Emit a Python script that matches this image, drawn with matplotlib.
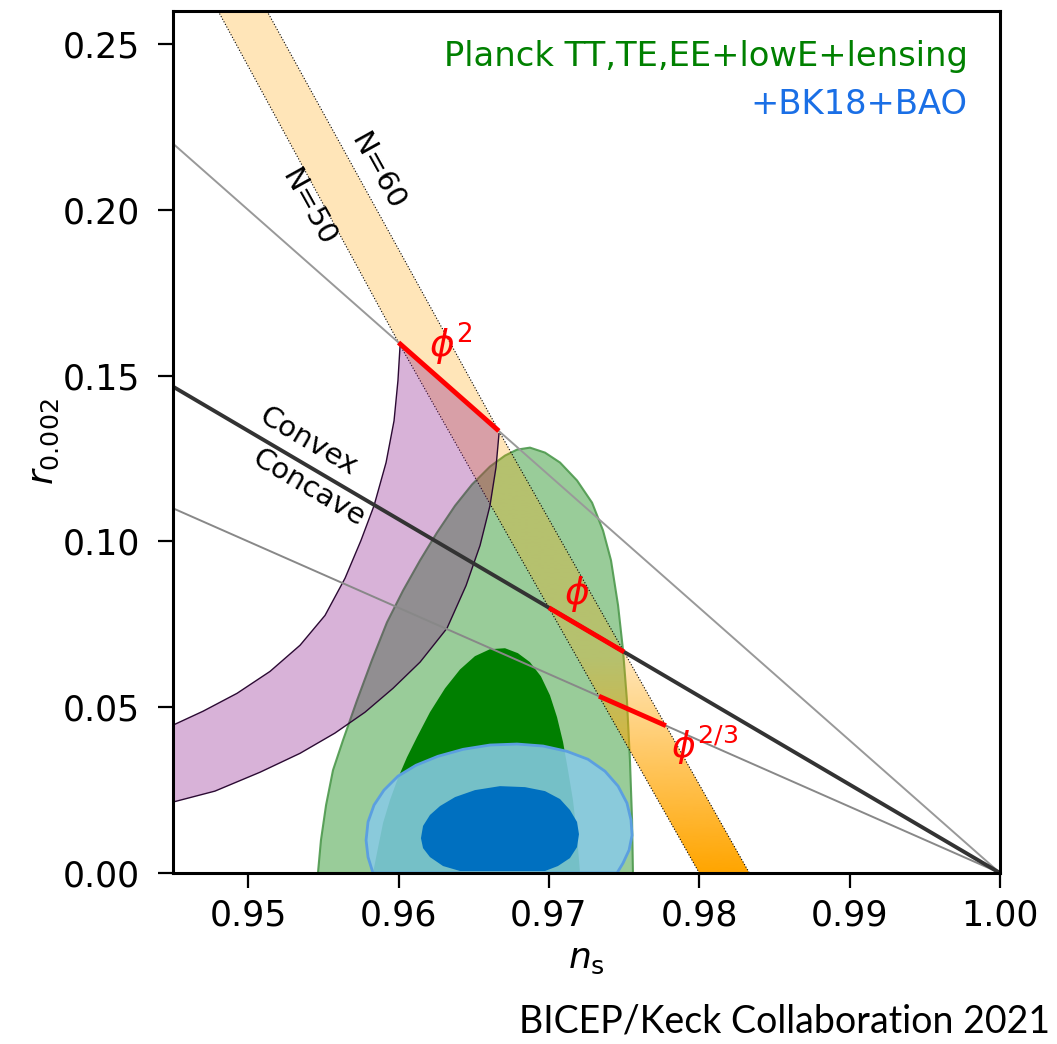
import numpy as np
import matplotlib
matplotlib.use('Agg')
import matplotlib.pyplot as plt
from matplotlib.patches import Polygon
from matplotlib.colors import to_rgb

# --- data (n_s, r) ---
# straight model lines, endpoints
quad_ns, quad_r = [0.945, 1.0], [0.22, 0.0]          # phi^2 line
lin_ns, lin_r = [0.945, 1.0], [0.1467, 0.0]          # phi line (convex/concave)
twothird_ns, twothird_r = [0.945, 1.0], [0.11, 0.0]  # phi^(2/3) line

# N=50 / N=60 edges of the orange band
n50_ns = [0.9480, 0.9600, 0.9700, 0.97333, 0.9800]
n50_r = [0.26, 0.1600, 0.0800, 0.05333, 0.0]
n60_ns = [0.95125, 0.96667, 0.9750, 0.97778, 0.98333]
n60_r = [0.26, 0.13333, 0.06667, 0.04444, 0.0]

# red segments (N=50 -> N=60)
seg_quad = ([0.9600, 0.96667], [0.1600, 0.13333])
seg_lin = ([0.9700, 0.9750], [0.0800, 0.06667])
seg_23 = ([0.97333, 0.97778], [0.05333, 0.04444])

# purple band (natural inflation), N=50 and N=60 edges
nat50_ns = [0.94500, 0.94700, 0.94926, 0.95145, 0.95345, 0.95511, 0.95644,
            0.95750, 0.95837, 0.95917, 0.95970, 0.95996, 0.96010]
nat50_r = [0.0446, 0.0488, 0.0542, 0.0608, 0.0687, 0.0777, 0.0889,
           0.1003, 0.1108, 0.1238, 0.1364, 0.1485, 0.1590]
nat60_ns = [0.94500, 0.94779, 0.95079, 0.95345, 0.95577, 0.95777, 0.95963,
            0.96143, 0.96322, 0.96449, 0.96542, 0.96608, 0.96648, 0.96668]
nat60_r = [0.0214, 0.0247, 0.0304, 0.0361, 0.0422, 0.0485, 0.0557,
           0.0636, 0.0738, 0.0867, 0.0988, 0.1108, 0.1223, 0.1325]

# Planck TT,TE,EE+lowE+lensing, 95% and 68%
pl95_ns = [0.95464, 0.95484, 0.95518, 0.95564, 0.95631, 0.95724, 0.95823,
           0.95923, 0.96030, 0.96143, 0.96256, 0.96376, 0.96489, 0.96608,
           0.96708, 0.96788, 0.96874, 0.96974, 0.97074, 0.97187, 0.97287,
           0.97360, 0.97413, 0.97460, 0.97493, 0.97519, 0.97539, 0.97553, 0.97559]
pl95_r = [0.0, 0.0099, 0.0205, 0.0310, 0.0401, 0.0521, 0.0642,
          0.0756, 0.0852, 0.0943, 0.1027, 0.1108, 0.1172, 0.1226,
          0.1259, 0.1277, 0.1283, 0.1268, 0.1238, 0.1184, 0.1117,
          0.1033, 0.0943, 0.0807, 0.0672, 0.0521, 0.0340, 0.0160, 0.0]
pl68_ns = [0.95830, 0.95863, 0.95897, 0.95943, 0.95996, 0.96056, 0.96123,
           0.96209, 0.96309, 0.96409, 0.96508, 0.96608, 0.96708, 0.96794,
           0.96874, 0.96947, 0.97007, 0.97054, 0.97094, 0.97127, 0.97160,
           0.97187, 0.97207]
pl68_r = [0.0, 0.0075, 0.0151, 0.0220, 0.0286, 0.0349, 0.0410,
          0.0485, 0.0557, 0.0614, 0.0654, 0.0675, 0.0678, 0.0663,
          0.0636, 0.0593, 0.0536, 0.0470, 0.0395, 0.0310, 0.0220,
          0.0114, 0.0]

# +BK18+BAO, 95% and 68%
bk95_ns = [0.95830, 0.95797, 0.95784, 0.95797, 0.95837, 0.95903, 0.95996,
           0.96116, 0.96262, 0.96429, 0.96608, 0.96788, 0.96961, 0.97120,
           0.97260, 0.97373, 0.97460, 0.97519, 0.97546, 0.97553, 0.97533,
           0.97493, 0.97453]
bk95_r = [0.0, 0.0048, 0.0099, 0.0154, 0.0205, 0.0250, 0.0292,
          0.0325, 0.0352, 0.0373, 0.0386, 0.0389, 0.0383, 0.0367,
          0.0343, 0.0307, 0.0262, 0.0211, 0.0160, 0.0114, 0.0069,
          0.0030, 0.0]
bk68_ns = [0.96409, 0.96296, 0.96209, 0.96163, 0.96149, 0.96163, 0.96209,
           0.96276, 0.96376, 0.96508, 0.96675, 0.96841, 0.96974, 0.97074,
           0.97140, 0.97187, 0.97200, 0.97187, 0.97140, 0.97060, 0.96974]
bk68_r = [0.0006, 0.0021, 0.0048, 0.0075, 0.0105, 0.0142, 0.0175,
          0.0202, 0.0229, 0.0250, 0.0262, 0.0259, 0.0247, 0.0223,
          0.0190, 0.0154, 0.0117, 0.0078, 0.0045, 0.0021, 0.0006]

xticks = [0.95, 0.96, 0.97, 0.98, 0.99, 1.00]
yticks = [0.00, 0.05, 0.10, 0.15, 0.20, 0.25]

# --- figure ---
fig = plt.figure(figsize=(10.57, 10.44), dpi=100)
ax = fig.add_axes([173/1057, 171/1044, 827/1057, 862/1044])
ax.set_xlim(0.945, 1.0)
ax.set_ylim(0, 0.26)

# Planck contours
ax.add_patch(Polygon(np.column_stack([pl95_ns, pl95_r]), closed=True,
                     facecolor=(0, 0.5, 0, 0.4), edgecolor=(0.3, 0.6, 0.3, 0.9),
                     lw=1.5, zorder=1))
ax.add_patch(Polygon(np.column_stack([pl68_ns, pl68_r]), closed=True,
                     facecolor='#007f00', edgecolor='none', zorder=1.1))

# BK18 contours
ax.add_patch(Polygon(np.column_stack([bk95_ns, bk95_r]), closed=True,
                     facecolor=(136/255, 202/255, 230/255, 0.87),
                     edgecolor='#5b9fe0', lw=2, zorder=1.2))
ax.add_patch(Polygon(np.column_stack([bk68_ns, bk68_r]), closed=True,
                     facecolor='#0070c0', edgecolor='none', zorder=1.3))

# orange N=50..60 band with gradient
band_xy = np.column_stack([n50_ns + n60_ns[::-1], n50_r + n60_r[::-1]])
band = Polygon(band_xy, closed=True, facecolor='none', edgecolor='none')
ax.add_patch(band)
grad_r = [0.0, 0.065, 0.26]
grad_a = [1.0, 0.28, 0.28]
rows = np.linspace(0, 0.26, 300)
img = np.zeros((300, 1, 4))
img[:, 0, :3] = to_rgb('orange')
img[:, 0, 3] = np.interp(rows, grad_r, grad_a)
im = ax.imshow(img, extent=[0.945, 1.0, 0, 0.26], origin='lower',
               aspect='auto', zorder=1.5, interpolation='bilinear')
im.set_clip_path(band)
ax.plot(n50_ns, n50_r, ls=':', color='k', lw=0.8, zorder=1.55)
ax.plot(n60_ns, n60_r, ls=':', color='k', lw=0.8, zorder=1.55)

# purple natural inflation band
nat_xy = np.column_stack([nat50_ns + nat60_ns[::-1], nat50_r + nat60_r[::-1]])
ax.add_patch(Polygon(nat_xy, closed=True, facecolor=(0.5, 0, 0.5, 0.3),
                     edgecolor='none', zorder=1.6))
ax.plot(nat50_ns, nat50_r, color='#2b0a33', lw=1.0, zorder=1.65)
ax.plot(nat60_ns, nat60_r, color='#2b0a33', lw=1.0, zorder=1.65)

# model lines
ax.plot(quad_ns, quad_r, color='#999999', lw=1.4, zorder=2)
ax.plot(twothird_ns, twothird_r, color='#888888', lw=1.4, zorder=2)
ax.plot(lin_ns, lin_r, color='#333333', lw=2.8, zorder=2.1)
for seg in (seg_quad, seg_lin, seg_23):
    ax.plot(seg[0], seg[1], color='red', lw=3.5, solid_capstyle='butt', zorder=3)

# labels on the plot
ax.text(0.95860, 0.2115, 'N=60', rotation=-61, fontsize=21,
        ha='center', va='center', rotation_mode='anchor', zorder=4)
ax.text(0.9540, 0.2007, 'N=50', rotation=-61, fontsize=21,
        ha='center', va='center', rotation_mode='anchor', zorder=4)
ax.text(0.9540, 0.1302, 'Convex', rotation=-30.5, fontsize=21,
        ha='center', va='center', rotation_mode='anchor', zorder=4)
ax.text(0.95405, 0.1162, 'Concave', rotation=-30.5, fontsize=21,
        ha='center', va='center', rotation_mode='anchor', zorder=4)
ax.text(0.96349, 0.1593, r'$\phi^2$', color='red', fontsize=27,
        ha='center', va='center', zorder=4)
ax.text(0.97185, 0.0842, r'$\phi$', color='red', fontsize=27,
        ha='center', va='center', zorder=4)
ax.text(0.98038, 0.0386, r'$\phi^{2/3}$', color='red', fontsize=26,
        ha='center', va='center', zorder=4)

ax.text(0.961, 0.947, 'Planck TT,TE,EE+lowE+lensing', color='#008000',
        fontsize=24.3, ha='right', va='center', transform=ax.transAxes)
ax.text(0.961, 0.891, '+BK18+BAO', color='#1a6fe6',
        fontsize=24.3, ha='right', va='center', transform=ax.transAxes)

# axes styling
ax.set_xticks(xticks)
ax.set_xticklabels(['%.2f' % v for v in xticks])
ax.set_yticks(yticks)
ax.set_yticklabels(['%.2f' % v for v in yticks])
ax.tick_params(axis='both', direction='out', length=11, width=1.6, labelsize=25)
ax.tick_params(axis='x', pad=7)
ax.tick_params(axis='y', pad=13)
for sp in ax.spines.values():
    sp.set_linewidth(2.2)

ax.set_xlabel(r'$n_{\rm s}$', fontsize=26, labelpad=7)
ax.set_ylabel(r'$r_{0.002}$', fontsize=26, labelpad=1)

fig.text(0.9934, 0.022, 'BICEP/Keck Collaboration 2021', family='Lato',
         fontsize=27, ha='right', va='center')

fig.savefig('out.png', dpi=100)
